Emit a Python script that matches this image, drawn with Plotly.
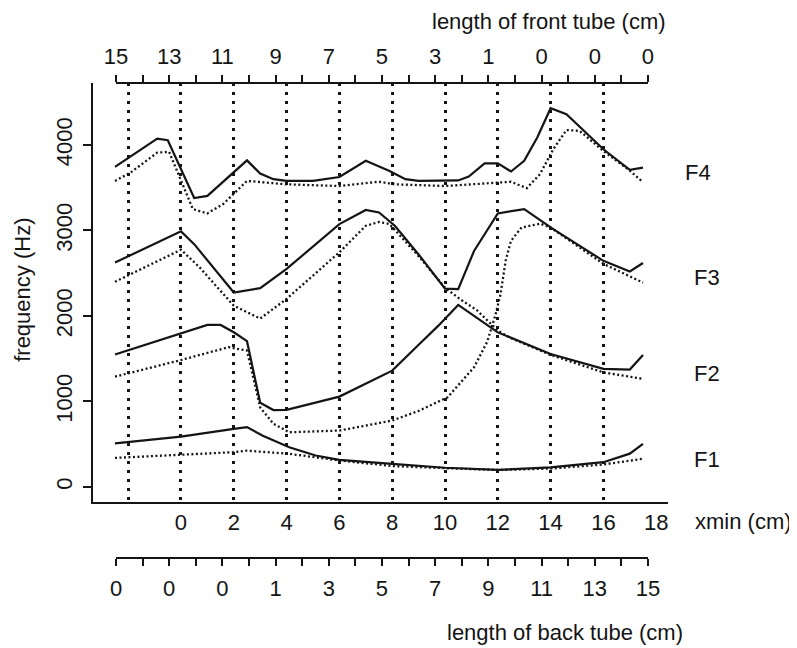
import plotly.graph_objects as go

# ---------------- data ----------------
f4_solid_x = [-2.5, -0.9, -0.5, 0.5, 1.0, 2.5, 3.0, 3.5, 4.0, 5.0, 6.0, 7.0, 7.9, 8.5, 9.0, 10.0, 10.5, 10.9, 11.5, 12.0, 12.5, 13.0, 13.5, 14.0, 14.6, 16.0, 17.0, 17.5]
f4_solid_y = [3745, 4075, 4055, 3380, 3405, 3820, 3665, 3600, 3580, 3580, 3625, 3815, 3695, 3600, 3580, 3580, 3585, 3630, 3785, 3785, 3690, 3815, 4090, 4430, 4360, 3950, 3710, 3735]

f4_dot_x = [-2.5, -1.9, -0.9, -0.45, 0.45, 1.0, 1.6, 2.5, 4.0, 6.0, 7.5, 8.1, 10.0, 12.0, 12.5, 13.1, 13.6, 14.1, 14.6, 15.1, 16.0, 17.0, 17.5]
f4_dot_y = [3580, 3680, 3910, 3920, 3250, 3200, 3310, 3580, 3540, 3520, 3570, 3540, 3520, 3560, 3570, 3495, 3660, 3950, 4175, 4165, 3930, 3700, 3565]

f3_solid_x = [-2.5, 0.0, 0.5, 2.0, 3.0, 4.0, 6.0, 7.0, 7.5, 8.1, 9.0, 10.0, 10.5, 11.1, 12.0, 13.0, 14.1, 16.0, 17.0, 17.5]
f3_solid_y = [2625, 2990, 2840, 2275, 2325, 2550, 3075, 3240, 3210, 3055, 2720, 2320, 2315, 2760, 3200, 3250, 3015, 2645, 2520, 2620]

f3_dot_x = [-2.5, 0.0, 0.7, 2.0, 3.0, 4.0, 6.0, 7.0, 7.5, 7.9, 9.0, 10.0, 10.6, 11.2, 12.0, 12.5, 14.0, 16.0, 17.5]
f3_dot_y = [2400, 2775, 2570, 2120, 1970, 2200, 2745, 3055, 3100, 3075, 2700, 2330, 2190, 2070, 1830, 1740, 1545, 1340, 1265]

f2_solid_x = [-2.5, 0.0, 1.0, 1.5, 2.0, 2.5, 3.0, 3.5, 4.0, 6.0, 8.0, 9.1, 9.75, 10.5, 12.0, 14.0, 16.0, 17.0, 17.5]
f2_solid_y = [1550, 1790, 1895, 1895, 1810, 1705, 985, 900, 902, 1057, 1361, 1692, 1887, 2130, 1808, 1556, 1381, 1373, 1544]

f2_dot_x = [-2.5, 0.0, 1.8, 2.5, 3.0, 3.5, 4.1, 6.0, 8.0, 9.0, 10.1, 11.1, 11.6, 11.9, 12.1, 12.3, 12.5, 12.9, 13.6, 14.0, 16.0, 17.5]
f2_dot_y = [1290, 1485, 1635, 1595, 930, 740, 640, 660, 777, 890, 1050, 1400, 1700, 2000, 2250, 2650, 2880, 3035, 3080, 3035, 2610, 2390]

f1_solid_x = [-2.5, 0.0, 2.0, 2.5, 3.1, 4.1, 5.1, 6.0, 8.0, 10.0, 12.0, 14.0, 16.0, 17.0, 17.5]
f1_solid_y = [510, 590, 680, 700, 600, 465, 368, 318, 270, 225, 200, 230, 290, 390, 505]

f1_dot_x = [-2.5, 0.0, 2.0, 2.5, 4.1, 6.0, 8.0, 10.0, 12.0, 14.0, 16.0, 17.5]
f1_dot_y = [340, 380, 407, 425, 388, 310, 245, 220, 199, 215, 263, 330]

xmin_ticks = [0, 2, 4, 6, 8, 10, 12, 14, 16, 18]
grid_x = [-2, 0, 2, 4, 6, 8, 10, 12, 14, 16]
freq_ticks = [0, 1000, 2000, 3000, 4000]
tube_tick_pos = [-2.5 + i for i in range(21)]
front_labels = ["15", "13", "11", "9", "7", "5", "3", "1", "0", "0", "0"]
back_labels = ["0", "0", "0", "1", "3", "5", "7", "9", "11", "13", "15"]
formant_names = ["F4", "F3", "F2", "F1"]
formant_label_y = [3684, 2456, 1322, 316]

# ---------------- styling ----------------
INK = "#141414"
FONT = "Liberation Sans, Arial, Helvetica, sans-serif"
FS = 22
CLEAR = "rgba(0,0,0,0)"

fig = go.Figure()

solid = dict(color=INK, width=2.2)
dotted = dict(color=INK, width=2.3, dash="2px,2.5px")

series = [
    (f4_solid_x, f4_solid_y, solid), (f4_dot_x, f4_dot_y, dotted),
    (f3_solid_x, f3_solid_y, solid), (f3_dot_x, f3_dot_y, dotted),
    (f2_solid_x, f2_solid_y, solid), (f2_dot_x, f2_dot_y, dotted),
    (f1_solid_x, f1_solid_y, solid), (f1_dot_x, f1_dot_y, dotted),
]
for xs, ys, ln in series:
    fig.add_trace(go.Scatter(x=xs, y=ys, mode="lines", line=ln,
                             showlegend=False, hoverinfo="skip"))

# helper (empty) traces so that the extra axes are drawn
for ax in ["x2", "x3", "x4"]:
    fig.add_trace(go.Scatter(x=[None], y=[None], xaxis=ax, yaxis="y",
                             showlegend=False, hoverinfo="skip"))

x_range = [-3.333, 18.447]
tube_domain = [0.040, 0.9652]

def spaced(labels):
    out = []
    for lab in labels:
        out.append(lab)
        out.append("")
    return out[:-1]

common = dict(automargin=False, showgrid=False, zeroline=False)

# the page body adds an 8px offset, so the figure is 8px smaller on each side
fig.update_layout(
    template="none",
    width=789, height=640,
    margin=dict(l=85, r=129, t=75, b=90, autoexpand=False),
    paper_bgcolor="white", plot_bgcolor=CLEAR,
    font=dict(family=FONT, size=FS, color=INK),
    showlegend=False,
    xaxis=dict(domain=[0, 1], anchor="y", range=x_range,
               tickmode="array", tickvals=xmin_ticks, ticks="",
               showline=True, linecolor=INK, linewidth=1.6, **common),
    xaxis4=dict(overlaying="x", anchor="y", range=x_range, automargin=False,
                tickmode="array", tickvals=grid_x, showticklabels=False,
                ticks="", showline=False, showgrid=True, zeroline=False,
                gridcolor=INK, gridwidth=2.6, griddash="2.5px,6.5px"),
    xaxis2=dict(domain=tube_domain, anchor="free", position=1, side="top",
                range=[-2.5, 17.5], tickmode="array", tickvals=tube_tick_pos,
                ticktext=spaced(front_labels), ticks="outside", ticklen=7,
                tickwidth=1.6, tickcolor=INK, showline=True, linecolor=INK,
                linewidth=1.6, ticklabelstandoff=2, **common),
    xaxis3=dict(domain=tube_domain, anchor="free", position=0, side="bottom",
                range=[-2.5, 17.5], tickmode="array", tickvals=tube_tick_pos,
                ticktext=spaced(back_labels), ticks="outside", ticklen=7,
                tickwidth=1.6, tickcolor=INK, showline=True, linecolor=INK,
                linewidth=1.6, ticklabelstandoff=4, **common),
    yaxis=dict(domain=[0.118, 1], anchor="x", range=[-175, 4725],
               tickmode="array", tickvals=freq_ticks, tickangle=-90,
               ticks="outside", ticklen=8, tickwidth=1.6, tickcolor=INK,
               showline=True, linecolor=INK, linewidth=1.6,
               ticklabelstandoff=2, **common),
)

annotations = [
    dict(text="frequency (Hz)", xref="paper", yref="paper", x=-0.124, y=0.564,
         textangle=-90, showarrow=False, xanchor="center", yanchor="middle"),
    dict(text="xmin (cm)", xref="paper", yref="paper", x=1.0435, y=0.076,
         showarrow=False, xanchor="left", yanchor="middle"),
    dict(text="length of front tube (cm)", xref="paper", yref="paper", x=1.0, y=1.0,
         yshift=62, showarrow=False, xanchor="right", yanchor="middle"),
    dict(text="length of back tube (cm)", xref="paper", yref="paper", x=1.03, y=0.0,
         yshift=-74, showarrow=False, xanchor="right", yanchor="middle"),
]
for name, yv, xp in zip(formant_names, formant_label_y, [1.026, 1.0417, 1.0417, 1.0417]):
    annotations.append(dict(text=name, xref="paper", yref="y", x=xp, y=yv,
                            showarrow=False, xanchor="left", yanchor="middle"))
fig.update_layout(annotations=annotations)

fig.write_html("out.html")
